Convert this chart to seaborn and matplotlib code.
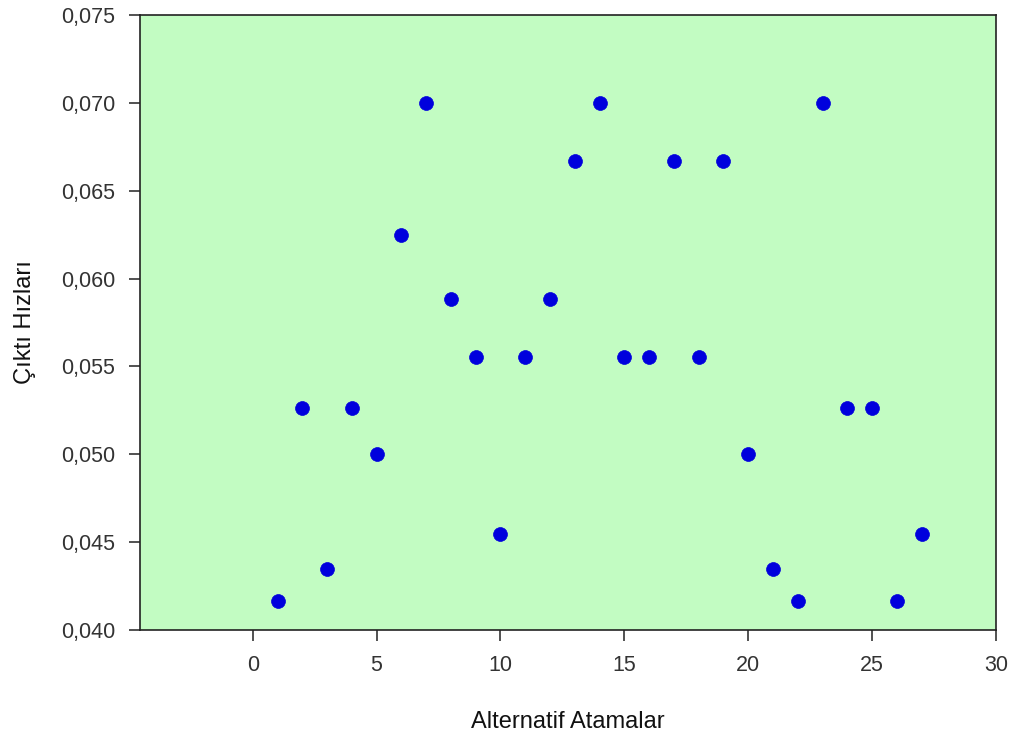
import matplotlib
matplotlib.use("Agg")
import matplotlib.pyplot as plt
import seaborn as sns
import pandas as pd
from matplotlib.ticker import FuncFormatter

# Alternative assignments and their throughput rates
alternatives = list(range(1, 28))
rates = [0.04167, 0.05263, 0.04348, 0.05263, 0.05000, 0.06250, 0.07000,
         0.05882, 0.05556, 0.04545, 0.05556, 0.05882, 0.06667, 0.07000,
         0.05556, 0.05556, 0.06667, 0.05556, 0.06667, 0.05000, 0.04348,
         0.04167, 0.07000, 0.05263, 0.05263, 0.04167, 0.04545]

x_ticks = [0, 5, 10, 15, 20, 25, 30]
y_ticks = [0.040, 0.045, 0.050, 0.055, 0.060, 0.065, 0.070, 0.075]

df = pd.DataFrame({"Alternatif": alternatives, "Hiz": rates})

sns.set_style("ticks")
plt.rcParams["font.family"] = ["Liberation Sans", "DejaVu Sans"]

fig = plt.figure(figsize=(10.16, 7.36), dpi=100)
ax = fig.add_axes([0.1378, 0.144, 0.8425, 0.8356])
ax.set_facecolor("#c2fcc2")

sns.scatterplot(data=df, x="Alternatif", y="Hiz", ax=ax, color="#0000dd",
                s=100, edgecolor="#0000dd", linewidth=0.5, legend=False)

ax.set_xlim(-4.55, 30)
ax.set_ylim(0.040, 0.075)
ax.set_xticks(x_ticks)
ax.set_yticks(y_ticks)
ax.yaxis.set_major_formatter(FuncFormatter(lambda v, p: f"{v:.3f}".replace(".", ",")))
ax.tick_params(axis="both", direction="out", length=8, width=1.2,
               labelsize=15.5, colors="#333333", pad=10)
for sp in ax.spines.values():
    sp.set_visible(True)
    sp.set_color("#222222")
    sp.set_linewidth(1.2)

ax.set_xlabel("Alternatif Atamalar", fontsize=17, color="#111111", labelpad=25)
ax.set_ylabel("Çıktı Hızları", fontsize=17, color="#111111", labelpad=18)

fig.savefig("out.png", dpi=100)
